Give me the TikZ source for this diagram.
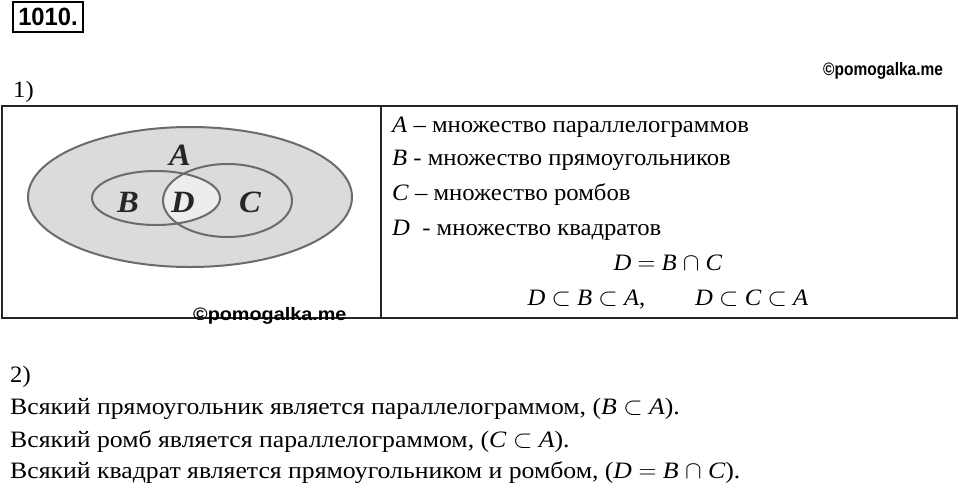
\documentclass[tikz,border=0pt]{standalone}
\usepackage{fontspec}
\setmainfont[FakeStretch=1.05]{Liberation Serif}
\newfontfamily\widefont[FakeStretch=1.095]{Liberation Serif}
\newfontfamily\wmfont{Liberation Sans}
\usepackage{graphicx}
\newcommand\mi[1]{\textit{#1}}
\begin{document}
\begin{tikzpicture}[x=1pt,y=-1pt,
  txt/.style={anchor=base west,inner sep=0pt,font=\fontsize{23.5}{28}\selectfont},
  wtxt/.style={anchor=base west,inner sep=0pt,font=\widefont\fontsize{23.5}{28}\selectfont},
  mtxt/.style={anchor=base,inner sep=0pt,font=\fontsize{23.5}{28}\selectfont},
  venn/.style={draw=black!58,line width=2pt},
  vlab/.style={inner sep=0pt,font=\fontsize{31}{33}\selectfont\bfseries\itshape,text=black!85},
  wm/.style={anchor=base west,inner sep=0pt,font=\wmfont\bfseries\fontsize{18}{20}\selectfont},
  frame/.style={draw=black!85,line width=1.8pt}]
\useasboundingbox[fill=white] (0,0) rectangle (960,488);
% header
\node[draw,line width=1.3pt,minimum width=70pt,minimum height=30pt,inner sep=0pt,
  font=\wmfont\bfseries\fontsize{25}{27}\selectfont] (num) at (48,17) {\scalebox{0.95}[1]{1010.}};
\node[wm] (wm1) at (823,75) {\scalebox{0.86}[1]{©pomogalka.me}};
\node[txt] (p1) at (13,97) {1)};
% table
\draw[frame] (2,106) rectangle (957,318);
\draw[frame] (381,106) -- (381,318);
% Venn diagram
\fill[gray!28] (190,197) ellipse [x radius=162,y radius=70];
\begin{scope}
  \clip (156,198) ellipse [x radius=64,y radius=27];
  \fill[gray!14] (227.5,200.5) ellipse [x radius=64.5,y radius=36.5];
\end{scope}
\draw[venn] (190,197) ellipse [x radius=162,y radius=70];
\draw[venn] (156,198) ellipse [x radius=64,y radius=27];
\draw[venn] (227.5,200.5) ellipse [x radius=64.5,y radius=36.5];
\node[vlab] (la) at (180,155) {A};
\node[vlab] (lb) at (128,202) {B};
\node[vlab] (ld) at (183,202) {D};
\node[vlab] (lc) at (250,202) {C};
\node[wm] (wm2) at (193,320) {\scalebox{1.1}[1]{©pomogalka.me}};
% definitions
\node[txt] (t1) at (392,132) {\mi{A} – множество параллелограммов};
\node[txt] (t2) at (392,165) {\mi{B} - множество прямоугольников};
\node[txt] (t3) at (392,200) {\mi{C} – множество ромбов};
\node[txt] (t4) at (392,235) {\mi{D}\ \ - множество квадратов};
\node[mtxt] (t5) at (668,270) {\mi{D} $=$ \mi{B} $\cap$ \mi{C}};
\node[mtxt] (t6) at (668,305) {\mi{D} $\subset$ \mi{B} $\subset$ \mi{A},\hspace{50pt}\mi{D} $\subset$ \mi{C} $\subset$ \mi{A}};
% part 2
\node[txt] (p2) at (10,382) {2)};
\node[wtxt] (s1) at (10,414) {Всякий прямоугольник является параллелограммом, (\mi{B} $\subset$ \mi{A}).};
\node[wtxt] (s2) at (10,447) {Всякий ромб является параллелограммом, (\mi{C} $\subset$ \mi{A}).};
\node[wtxt] (s3) at (10,478) {Всякий квадрат является прямоугольником и ромбом, (\mi{D} $=$ \mi{B} $\cap$ \mi{C}).};
\end{tikzpicture}
\end{document}
